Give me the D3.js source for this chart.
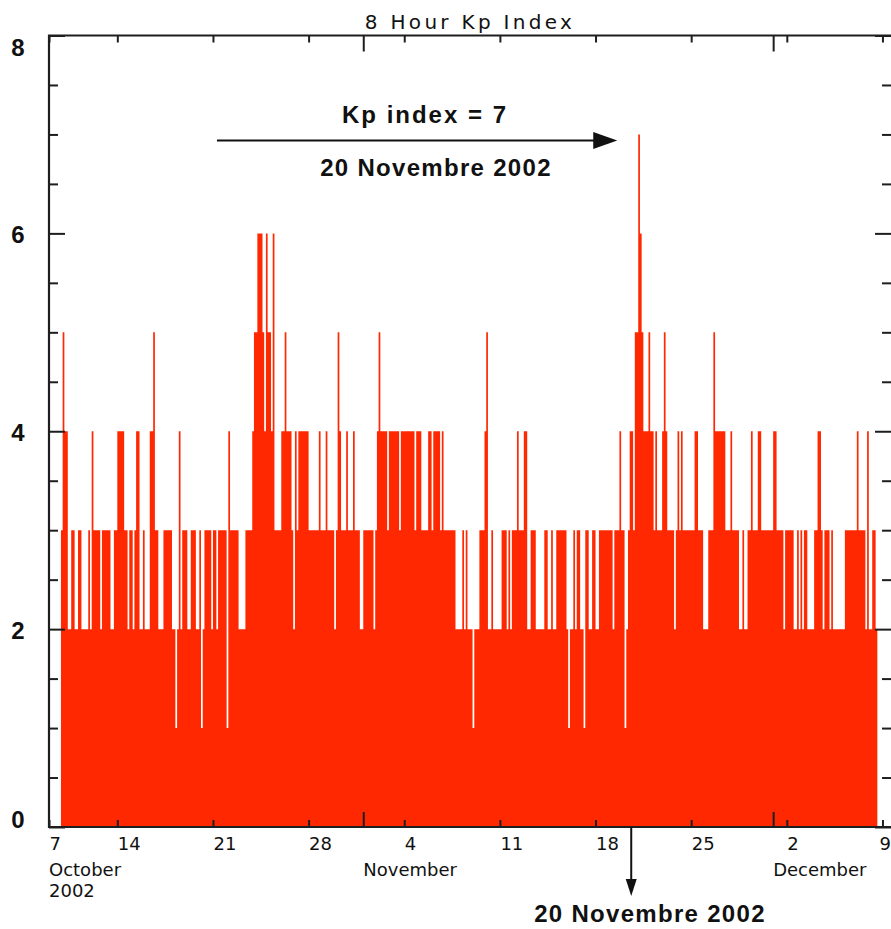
<!DOCTYPE html>
<html><head><meta charset="utf-8">
<script src="https://cdn.jsdelivr.net/npm/d3@7"></script>
<style>body{margin:0;background:#fff}svg{display:block}</style>
</head><body>
<svg id="chart" width="891" height="929"></svg>
<script>
// ---- data (3-hourly Kp values) ----
const kpValues = [
3,5,4,4,2,2,3,3, 2,2,3,3,2,2,2,2, 3,2,4,3,3,3,3,2, 3,3,3,3,3,2,2,3, 3,4,4,4,4,3,3,2,
3,3,2,3,4,4,2,2, 3,2,2,2,4,4,5,3, 3,2,2,2,3,3,3,3, 3,2,2,1,2,4,2,3, 3,3,2,2,3,3,3,2,
2,3,1,2,3,3,3,3, 2,3,3,2,3,3,3,3, 3,1,4,3,3,3,3,3, 2,2,2,2,3,3,3,3, 4,5,5,6,6,6,5,4,
6,5,5,4,6,3,3,3, 3,4,4,5,4,4,4,3, 2,4,3,4,4,4,4,4, 4,3,3,3,3,3,3,4, 3,3,3,4,3,3,3,3,
2,3,5,4,3,3,3, 4,3,3,3,4,3,3,3, 2,2,3,3,3,3,3,3, 2,3,4,5,4,4,4,4, 3,4,4,4,4,4,4,3,
4,4,4,4,4,4,4,4, 3,4,4,4,3,3,3,3, 4,4,3,4,4,4,4,3, 4,3,3,3,3,3,3,3, 2,2,2,2,3,2,3,2,
2,2,1,2,2,2,3,3, 3,4,5,2,2,3,2,2, 2,2,2,3,3,3,2,3, 2,3,3,3,4,3,3,3, 4,4,2,2,3,3,3,2,
2,2,2,2,3,3,2,2, 3,2,2,3,3,3,3,3, 3,2,1,2,2,3,2,3, 3,2,2,1,3,3,2,2, 3,3,2,2,3,3,3,3,
3,3,3,3,2,3,3,3, 4,3,3,1,2,3,4,4, 3,5,5,7,6,5,4,4, 4,5,4,4,3,4,3,3, 3,4,5,4,3,3,3,3,
2,3,4,3,4,3,3,3, 3,3,3,3,4,4,3,3, 3,2,2,2,3,3,3, 5,4,4,4,4,4,4,3, 3,3,4,3,3,3,3,2,
2,3,2,2,3,3,4,3, 3,3,4,4,3,3,3,3, 3,3,3,4,4,3,3,3, 3,2,3,3,3,3,3,2, 2,3,2,3,2,3,3,2,
2,2,2,3,3,4,4,3, 2,3,3,3,2,3,2,2, 2,2,2,2,2,3,3,3, 3,3,3,3,4,3,3,3, 3,2,4,2,2,3,3,2
];
const firstBarTime = new Date(2002, 9, 9, 21);
const barHours = 3;
const weekTickDates = [new Date(2002,9,7), new Date(2002,9,14), new Date(2002,9,21), new Date(2002,9,28),
  new Date(2002,10,4), new Date(2002,10,11), new Date(2002,10,18), new Date(2002,10,25),
  new Date(2002,11,2), new Date(2002,11,9)];
const weekTickLabels = ["7","14","21","28","4","11","18","25","2","9"];
const monthTickDates = [new Date(2002,9,1), new Date(2002,10,1), new Date(2002,11,1)];
const monthLabels = ["October","November","December"];
const yearLabel = "2002";
const yMajorTicks = [0,2,4,6,8];
const yMinorTicks = [0.5,1,1.5,2.5,3,3.5,4.5,5,5.5,6.5,7,7.5];
const titleText = "8 Hour Kp Index";
const peakText = "Kp index = 7";
const peakDateText = "20 Novembre 2002";

// ---- layout ----
const W = 891;
const svg = d3.select("#chart");
const L = 49, R = 891, T = 35.5, B = 827;
const x = d3.scaleTime().domain([new Date(2002,9,9), new Date(2002,11,9,15)]).range([L, R]).clamp(true);
const y = d3.scaleLinear().domain([0, 8]).range([B, T]);
const axisColor = "#1e1e1e";
const tickFont = "'DejaVu Sans', sans-serif";

// bars (3-hour steps, drawn as one stepped area so adjacent bars don't leave seams)
const bars = kpValues.map((v, i) => ({
  t0: d3.timeHour.offset(firstBarTime, i * barHours),
  v
}));
const stepPts = bars.concat([{ t0: d3.timeHour.offset(firstBarTime, bars.length * barHours), v: bars[bars.length - 1].v }]);
svg.append("path").datum(stepPts)
  .attr("d", d3.area().curve(d3.curveStepAfter).x(d => x(d.t0)).y0(y(0)).y1(d => y(d.v)))
  .attr("fill", "#ff2800");

// bottom axis (week ticks + labels)
const gB = svg.append("g").attr("transform", `translate(0,${B})`)
  .call(d3.axisBottom(x).tickValues(weekTickDates).tickSize(-7).tickFormat((d, i) => weekTickLabels[i]));
gB.select(".domain").remove();
gB.attr("font-family", tickFont).attr("font-size", 18);
gB.selectAll("line").attr("stroke", axisColor).attr("stroke-width", 2);
gB.selectAll("text").attr("y", 23).attr("dy", 0).attr("text-anchor", "start").attr("fill", "#111")
  .attr("x", function (d) {
    const bb = this.getBBox();
    const abs = x(d) + bb.width;
    return abs > W ? W - abs - 0.5 : 0;
  });
const gBm = svg.append("g").attr("transform", `translate(0,${B})`)
  .call(d3.axisBottom(x).tickValues(monthTickDates.slice(1)).tickSize(-15).tickFormat(""));
gBm.select(".domain").remove();
gBm.selectAll("line").attr("stroke", axisColor).attr("stroke-width", 2);

// month + year labels
svg.append("g").attr("font-family", tickFont).attr("font-size", 18).attr("fill", "#111")
  .selectAll("text").data(monthTickDates).join("text")
  .attr("x", d => x(d)).attr("y", B + 49).text((d, i) => monthLabels[i]);
svg.append("text").attr("font-family", tickFont).attr("font-size", 18).attr("fill", "#111")
  .attr("x", x(monthTickDates[0])).attr("y", B + 70).text(yearLabel);

// top axis
const gT = svg.append("g").attr("transform", `translate(0,${T})`)
  .call(d3.axisTop(x).tickValues(weekTickDates).tickSize(-7).tickFormat(""));
gT.select(".domain").remove();
gT.selectAll("line").attr("stroke", axisColor).attr("stroke-width", 2);
const gTm = svg.append("g").attr("transform", `translate(0,${T})`)
  .call(d3.axisTop(x).tickValues(monthTickDates.slice(1)).tickSize(-16).tickFormat(""));
gTm.select(".domain").remove();
gTm.selectAll("line").attr("stroke", axisColor).attr("stroke-width", 2);

// left axis
const gLmin = svg.append("g").attr("transform", `translate(${L},0)`)
  .call(d3.axisLeft(y).tickValues(yMinorTicks).tickSize(-9).tickFormat(""));
gLmin.select(".domain").remove();
gLmin.selectAll("line").attr("stroke", axisColor).attr("stroke-width", 2);
const gL = svg.append("g").attr("transform", `translate(${L},0)`)
  .call(d3.axisLeft(y).tickValues(yMajorTicks).tickSize(-16).tickFormat(d3.format("d")));
gL.select(".domain").remove();
gL.selectAll("line").attr("stroke", axisColor).attr("stroke-width", 2);
gL.attr("font-family", "'Liberation Sans', Arial, sans-serif").attr("font-size", 24).attr("font-weight", "bold");
gL.selectAll("text").attr("x", -31).attr("text-anchor", "middle").attr("fill", "#111")
  .attr("dy", d => d === 8 ? 20 : d === 0 ? 0 : 9);

// right axis
const gRmin = svg.append("g").attr("transform", `translate(${R},0)`)
  .call(d3.axisRight(y).tickValues(yMinorTicks).tickSize(-9).tickFormat(""));
gRmin.select(".domain").remove();
gRmin.selectAll("line").attr("stroke", axisColor).attr("stroke-width", 2);
const gR = svg.append("g").attr("transform", `translate(${R},0)`)
  .call(d3.axisRight(y).tickValues(yMajorTicks).tickSize(-16).tickFormat(""));
gR.select(".domain").remove();
gR.selectAll("line").attr("stroke", axisColor).attr("stroke-width", 2);

// frame
svg.append("path")
  .attr("d", `M${R + 2},${T}H${L}V${B}H${R + 2}`)
  .attr("fill", "none").attr("stroke", axisColor).attr("stroke-width", 2.2);

// title
svg.append("text").attr("x", 470).attr("y", 29).attr("text-anchor", "middle")
  .attr("font-family", tickFont).attr("font-size", 20).attr("letter-spacing", 3.3).attr("fill", "#111")
  .text(titleText);

// annotations
const peakIdx = kpValues.indexOf(d3.max(kpValues));
const peakX = x(bars[peakIdx].t0);
const peakY = y(bars[peakIdx].v);
const annFont = "'Liberation Sans', Arial, sans-serif";
const ann = svg.append("g").attr("fill", "#111").attr("font-family", annFont)
  .attr("font-weight", "bold").attr("font-size", 24);
const arrowY = peakY + 6;
const arrowStart = x(new Date(2002, 9, 21, 7));
const arrowTip = peakX - 21;
ann.append("line").attr("x1", arrowStart).attr("x2", arrowTip - 10).attr("y1", arrowY).attr("y2", arrowY)
  .attr("stroke", "#111").attr("stroke-width", 2);
ann.append("path").attr("d", `M${arrowTip - 24},${arrowY - 8.5}L${arrowTip},${arrowY}L${arrowTip - 24},${arrowY + 8.5}Z`);
ann.append("text").attr("x", 425).attr("y", arrowY - 17).attr("text-anchor", "middle")
  .attr("letter-spacing", 2).text(peakText);
ann.append("text").attr("x", 436).attr("y", arrowY + 36).attr("text-anchor", "middle")
  .attr("letter-spacing", 1.3).text(peakDateText);

const vX = peakX - 7;
ann.append("line").attr("x1", vX).attr("x2", vX).attr("y1", B).attr("y2", B + 56)
  .attr("stroke", "#111").attr("stroke-width", 2);
ann.append("path").attr("d", `M${vX - 5.5},${B + 52}L${vX + 5.5},${B + 52}L${vX},${B + 69}Z`);
ann.append("text").attr("x", 650).attr("y", B + 95).attr("text-anchor", "middle")
  .attr("letter-spacing", 1.3).text(peakDateText);
</script>
</body></html>
